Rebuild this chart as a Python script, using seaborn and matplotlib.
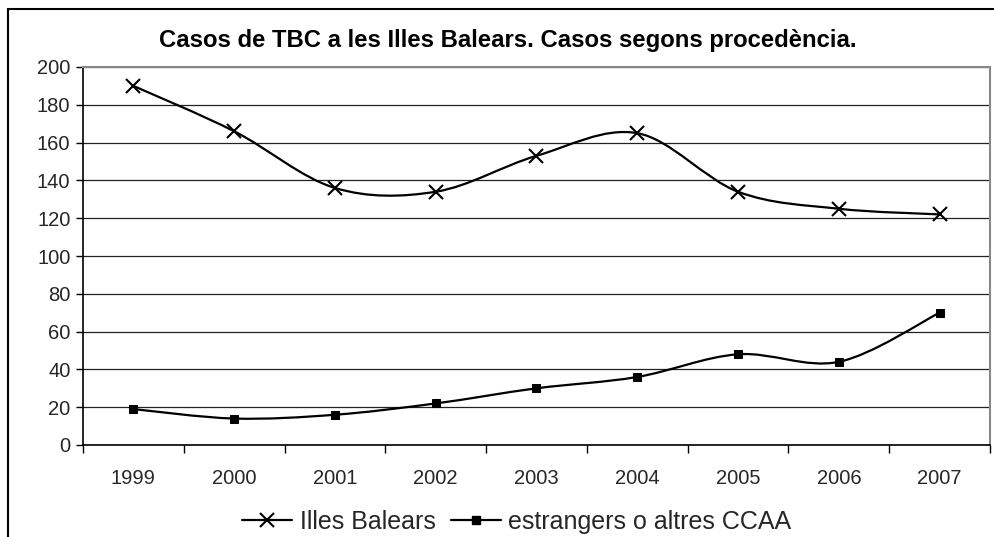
import numpy as np
import matplotlib
matplotlib.use("Agg")
import matplotlib.pyplot as plt
import seaborn as sns
import pandas as pd
from matplotlib.path import Path
from matplotlib.patches import PathPatch, Rectangle
from matplotlib.lines import Line2D

years = ["1999", "2000", "2001", "2002", "2003", "2004", "2005", "2006", "2007"]
illes_balears = [190, 166, 136, 134, 153, 165, 134, 125, 122]
estrangers = [19, 14, 16, 22, 30, 36, 48, 44, 70]
series_names = ["Illes Balears", "estrangers o altres CCAA"]
title = "Casos de TBC a les Illes Balears. Casos segons procedència."

sns.set_theme(style="white")
plt.rcParams["font.family"] = ["Liberation Sans", "DejaVu Sans"]

fig = plt.figure(figsize=(9.95, 5.37), dpi=100)
ax = fig.add_axes([83/995, 1-445/537, (990-83)/995, (445-67)/537])

x = np.arange(len(years))
df = pd.DataFrame({"x": np.concatenate([x, x]),
                   "y": illes_balears + estrangers,
                   "s": [series_names[0]]*len(years) + [series_names[1]]*len(years)})

def smooth_path(xs, ys):
    pts = np.column_stack([xs, ys]).astype(float)
    n = len(pts)
    verts = [pts[0]]
    codes = [Path.MOVETO]
    for i in range(n-1):
        p_prev = pts[i-1] if i > 0 else pts[i]
        p_next2 = pts[i+2] if i+2 < n else pts[i+1]
        c1 = pts[i] + (pts[i+1] - p_prev) / 6.0
        c2 = pts[i+1] - (p_next2 - pts[i]) / 6.0
        verts += [c1, c2, pts[i+1]]
        codes += [Path.CURVE4]*3
    return Path(verts, codes)

for vals in (illes_balears, estrangers):
    ax.add_patch(PathPatch(smooth_path(x, vals), facecolor="none",
                           edgecolor="black", lw=1.6, zorder=3))

sub1 = df[df.s == series_names[0]]
sub2 = df[df.s == series_names[1]]
sns.lineplot(data=sub1, x="x", y="y", ax=ax, linestyle="", marker="x",
             markersize=10, markeredgewidth=1.5, color="black",
             markeredgecolor="black", markerfacecolor="black", zorder=4)
sns.lineplot(data=sub2, x="x", y="y", ax=ax, linestyle="", marker="s",
             markersize=6, color="black", markeredgecolor="black",
             markerfacecolor="black", zorder=4)

ax.set_xlim(-0.5, len(years)-0.5)
ax.set_ylim(0, 200)
ax.set_yticks(range(0, 201, 20))
ax.set_xticks(x)
ax.set_xticklabels(years)
ax.set_xticks(np.arange(-0.5, len(years), 1.0), minor=True)
ax.set_xlabel("")
ax.set_ylabel("")
ax.yaxis.grid(True, color="#222222", lw=0.9)
ax.xaxis.grid(False)
ax.set_axisbelow(True)
ax.tick_params(axis="x", which="major", length=0, pad=17, labelsize=14.5)
ax.tick_params(axis="x", which="minor", length=6, width=1, color="black", direction="out", bottom=True)
ax.tick_params(axis="y", length=5, width=1, color="black", direction="out", pad=4, labelsize=14.5, left=True)
for side in ("top", "right"):
    ax.spines[side].set_color("#888888")
    ax.spines[side].set_linewidth(1.5)
for side in ("left", "bottom"):
    ax.spines[side].set_color("black")
    ax.spines[side].set_linewidth(1.2)

fig.text(508/995, 1-40/537, title, ha="center", va="center",
         fontsize=17.2, fontweight="bold", color="black")

handles = [Line2D([], [], color="black", lw=1.6, marker="x", markersize=10, markeredgewidth=1.5),
           Line2D([], [], color="black", lw=1.6, marker="s", markersize=6)]
fig.legend(handles, series_names, loc="center", bbox_to_anchor=(517/995, 1-522/537),
           ncol=2, frameon=False, fontsize=18, handlelength=2.0, handletextpad=0.3,
           columnspacing=0.6)

fig.patches.append(Rectangle((8/995, -0.05), 1.2, 1-9/537+0.05, transform=fig.transFigure,
                             fill=False, edgecolor="black", lw=1.5))

fig.savefig("out.png", dpi=100)
